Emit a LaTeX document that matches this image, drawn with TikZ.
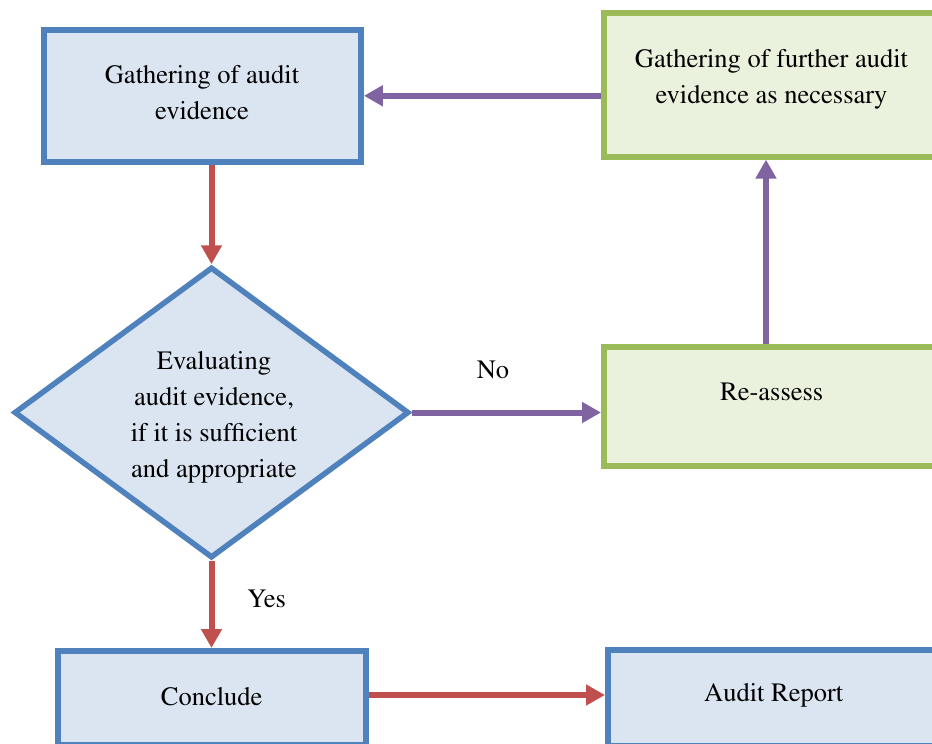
\documentclass[tikz,border=0pt]{standalone}
\usepackage[T1]{fontenc}
\renewcommand{\rmdefault}{ptm}
\usetikzlibrary{arrows.meta,shapes.geometric}

\definecolor{boxblue}{HTML}{4F81BD}
\definecolor{fillblue}{HTML}{DBE5F1}
\definecolor{boxgreen}{HTML}{9BBB59}
\definecolor{fillgreen}{HTML}{EAF1DD}
\definecolor{arrowred}{HTML}{C0504D}
\definecolor{arrowpurple}{HTML}{8064A2}

\tikzset{
  bluebox/.style={draw=boxblue, fill=fillblue, line width=6pt, rectangle, inner sep=0pt},
  greenbox/.style={draw=boxgreen, fill=fillgreen, line width=6pt, rectangle, inner sep=0pt},
  decision/.style={draw=boxblue, fill=fillblue, line width=5.5pt, diamond, inner sep=0pt},
  txt/.style={font=\fontsize{26.5}{36}\selectfont, align=center, inner sep=0pt, text=black},
  redarrow/.style={draw=arrowred, line width=6pt, -{Triangle[length=19pt,width=20pt]}},
  purplearrow/.style={draw=arrowpurple, line width=6pt, -{Triangle[length=19pt,width=20pt]}},
}

\begin{document}
\begin{tikzpicture}[x=1pt,y=-1pt]
  \useasboundingbox (0,0) rectangle (932,744);
  \clip (0,0) rectangle (932,744);

  % boxes
  \node[bluebox, minimum width=317pt, minimum height=131.5pt] (gather) at (202.4,95.8) {};
  \node[greenbox, minimum width=336pt, minimum height=144pt] (further) at (772,84.6) {};
  \node[greenbox, minimum width=336pt, minimum height=119pt] (reassess) at (772,406.5) {};
  \node[decision, minimum width=395pt, minimum height=291pt] (evaluate) at (211.5,412.5) {};
  \node[bluebox, minimum width=308pt, minimum height=94pt] (conclude) at (211.8,698) {};
  \node[bluebox, minimum width=332pt, minimum height=96pt] (report) at (774,698) {};

  % box texts
  \node[txt] (gathertxt) at (202,93) {Gathering of audit\\evidence};
  \node[txt] (furthertxt) at (771.5,79) {Gathering of further audit\\evidence as necessary};
  \node[txt] (reassesstxt) at (771.7,392) {Re-assess};
  \node[txt] (evaluatetxt) at (214,417.5) {Evaluating\\audit evidence,\\if it is sufficient\\and appropriate};
  \node[txt] (concludetxt) at (211.7,696.7) {Conclude};
  \node[txt] (reporttxt) at (773.7,695.7) {Audit Report};

  % connectors
  \draw[redarrow] (gather.south -| evaluate.north) -- (evaluate.north);
  \draw[purplearrow] (further.west |- gather.east) -- (gather.east);
  \draw[purplearrow] (evaluate.east) -- (evaluate.east -| reassess.west);
  \draw[purplearrow] ([xshift=-6pt]reassess.north) -- ([xshift=-6pt]further.south);
  \draw[redarrow] (evaluate.south) -- (evaluate.south |- conclude.north);
  \draw[redarrow] ([yshift=3pt]conclude.east) -- ([yshift=3pt]conclude.east -| report.west);

  % branch labels
  \node[txt] (nolabel) at (493,370) {No};
  \node[txt] (yeslabel) at (266.7,599) {Yes};
\end{tikzpicture}
\end{document}
